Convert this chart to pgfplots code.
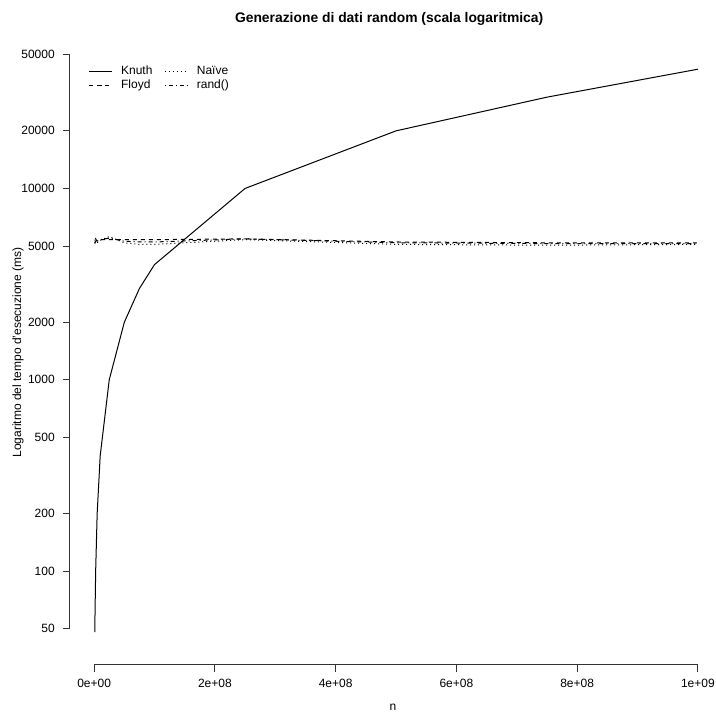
\documentclass[border=0pt]{standalone}
\usepackage{pgfplots}
\pgfplotsset{compat=1.18}
\usepackage{fontspec}
\setmainfont{Liberation Sans}

% tempi misurati (ms)
\pgfplotstableread{
n        knuth  floyd  naive  randf
1e6      48     5150   5400   5200
2.5e6    100    5300   5300   5450
5e6      200    5350   5200   5300
1e7      400    5400   5350   5400
2.5e7    1000   5400   5600   5500
5e7      2000   5400   5200   5300
7.5e7    3000   5400   5100   5250
1e8      4000   5400   5100   5250
2.5e8    10000  5450   5400   5450
5e8      20000  5250   5100   5200
7.5e8    30000  5200   5050   5150
1e9      42000  5200   5100   5150
}\tempi

\begin{document}
\begin{tikzpicture}
  \useasboundingbox (0,0) rectangle (537pt,534.75pt);
  \begin{axis}[
      at={(52.5pt,36pt)}, anchor=south west,
      scale only axis, width=484.5pt, height=468.75pt,
      ymode=log,
      xmin=-4e7, xmax=1.03e9, ymin=32.3, ymax=59700,
      clip=false,
      scaled x ticks=false,
      axis x line*=bottom, axis y line*=left,
      axis line style={draw=none},
      tick align=outside, tick pos=left,
      major tick length=5.25pt,
      tick style={black!80, line width=0.75pt},
      xtick={0,2e8,4e8,6e8,8e8,1e9},
      xticklabels={0e+00,2e+08,4e+08,6e+08,8e+08,1e+09},
      ytick={50,100,200,500,1000,2000,5000,10000,20000,50000},
      yticklabels={50,100,200,500,1000,2000,5000,10000,20000,50000},
      minor tick num=0,
      ticklabel style={font=\fontsize{9}{10}\selectfont, inner sep=0pt},
      xticklabel style={anchor=north, yshift=-5.5pt},
      yticklabel style={anchor=east, xshift=-6pt},
      title={\bfseries Generazione di dati random (scala logaritmica)},
      title style={font=\fontsize{10.4}{12}\selectfont, at={(axis description cs:0.494,1.0208)}, anchor=center},
      xlabel={n},
      xlabel style={font=\fontsize{9}{10}\selectfont, at={(axis description cs:0.5,-0.067)}, anchor=center},
      ylabel={Logaritmo del tempo d'esecuzione (ms)},
      ylabel style={font=\fontsize{9}{10}\selectfont, at={(axis description cs:-0.0805,0.5)}, anchor=center, rotate=0},
      legend columns=2,
      legend cell align=left,
      legend style={at={(axis description cs:0.0285,0.9605)}, anchor=north west,
        draw=none, fill=none, inner sep=0pt, row sep=0pt,
        font=\fontsize{9}{10}\selectfont,
        nodes={inner sep=1pt, text height=6.5pt, text depth=2pt},
        /tikz/every odd column/.append style={column sep=5.5pt},
        /tikz/every even column/.append style={column sep=8pt}},
    ]
    \addplot[black, line width=0.75pt] table[x=n, y=knuth] {\tempi};
    \addlegendentry{Knuth}
    \addplot[black, line width=0.75pt, dash pattern=on 0.75pt off 2.25pt] table[x=n, y=naive] {\tempi};
    \addlegendentry{Naïve}
    \addplot[black, line width=0.75pt, dash pattern=on 3pt off 3pt] table[x=n, y=floyd] {\tempi};
    \addlegendentry{Floyd}
    \addplot[black, line width=0.75pt, dash pattern=on 0.75pt off 2.25pt on 3pt off 2.25pt] table[x=n, y=randf] {\tempi};
    \addlegendentry{rand()}
    \draw[black!80, line width=0.75pt] (axis cs:0,32.3) -- (axis cs:1e9,32.3);
    \draw[black!80, line width=0.75pt] (axis cs:-4e7,50) -- (axis cs:-4e7,50000);
  \end{axis}
\end{tikzpicture}
\end{document}
